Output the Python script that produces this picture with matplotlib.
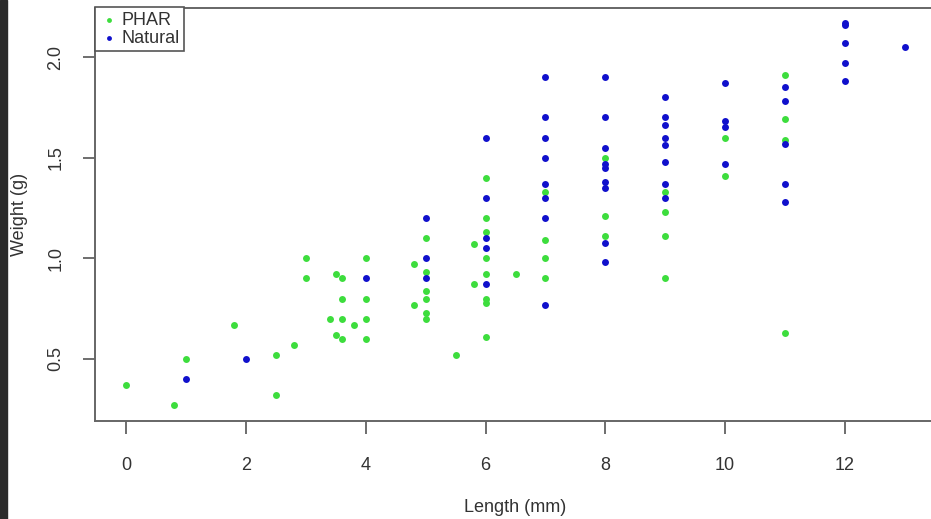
import matplotlib
matplotlib.use("Agg")
import matplotlib.pyplot as plt
from matplotlib.patches import Rectangle

# PHAR (green) fish
phar_len = [0, 0.8, 1, 1.8, 2.5, 2.5, 2.8, 3, 3, 3.4,
            3.5, 3.5, 3.6, 3.6, 3.6, 3.6, 3.8, 4, 4, 4, 4,
            4.8, 4.8, 5, 5, 5, 5, 5, 5, 5.5, 5.8, 5.8,
            6, 6, 6, 6, 6, 6, 6, 6, 6.5,
            7, 7, 7, 7, 8, 8, 8, 9, 9, 9, 9,
            10, 10, 11, 11, 11, 11]
phar_wt = [0.37, 0.27, 0.50, 0.67, 0.52, 0.32, 0.57, 1.00, 0.90, 0.70,
           0.92, 0.62, 0.90, 0.80, 0.70, 0.60, 0.67, 1.00, 0.80, 0.70, 0.60,
           0.97, 0.77, 1.10, 0.93, 0.835, 0.80, 0.73, 0.70, 0.52, 1.07, 0.87,
           1.40, 1.20, 1.13, 1.00, 0.92, 0.80, 0.78, 0.61, 0.92,
           1.33, 1.09, 1.00, 0.90, 1.50, 1.21, 1.11, 1.33, 1.23, 1.11, 0.90,
           1.60, 1.41, 1.91, 1.69, 1.59, 0.63]

# Natural (blue) fish
nat_len = [1, 2, 4, 5, 5, 5,
           6, 6, 6, 6, 6,
           7, 7, 7, 7, 7, 7, 7, 7,
           8, 8, 8, 8, 8, 8, 8, 8, 8,
           9, 9, 9, 9, 9, 9, 9, 9,
           10, 10, 10, 10,
           11, 11, 11, 11, 11,
           12, 12, 12, 12, 12, 13]
nat_wt = [0.40, 0.50, 0.90, 1.20, 1.00, 0.90,
          1.60, 1.30, 1.10, 1.05, 0.87,
          1.90, 1.70, 1.60, 1.50, 1.37, 1.30, 1.20, 0.77,
          1.90, 1.70, 1.55, 1.47, 1.45, 1.38, 1.35, 1.075, 0.98,
          1.80, 1.70, 1.66, 1.60, 1.565, 1.48, 1.37, 1.30,
          1.87, 1.68, 1.65, 1.47,
          1.85, 1.78, 1.57, 1.37, 1.28,
          2.17, 2.16, 2.07, 1.97, 1.88, 2.05]

x_ticks = [0, 2, 4, 6, 8, 10, 12]
y_ticks = [0.5, 1.0, 1.5, 2.0]

plt.rcParams['font.family'] = ['Liberation Sans', 'DejaVu Sans']

fig = plt.figure(figsize=(9.31, 5.19), dpi=100)
fig.patches.append(Rectangle((0, 0), 7 / 931, 1, transform=fig.transFigure,
                             color="#2b2b2b", zorder=0))

ax = fig.add_axes([95 / 931, 1 - 420.5 / 519, 841 / 931, 413 / 519])

green = "#3ddd3d"
blue = "#1010cc"
ax.scatter(phar_len, phar_wt, s=25, color=green, linewidths=0, label="PHAR", zorder=3)
ax.scatter(nat_len, nat_wt, s=25, color=blue, linewidths=0, label="Natural", zorder=4)

ax.set_xlim(-0.52, 13.52)
ax.set_ylim(0.194, 2.246)
ax.set_xticks(x_ticks)
ax.set_yticks(y_ticks)
ax.set_xticklabels([str(t) for t in x_ticks])
ax.set_yticklabels(["%.1f" % t for t in y_ticks], rotation=90, va="center")

for s in ax.spines.values():
    s.set_color("#666666")
    s.set_linewidth(1.4)
ax.tick_params(axis="both", colors="#555555", labelcolor="#333333",
               length=9, width=1.2, labelsize=13)
ax.tick_params(axis="x", pad=17)
ax.tick_params(axis="y", pad=13)

ax.set_xlabel("Length (mm)", fontsize=13, color="#333333", labelpad=18)
ax.set_ylabel("Weight (g)", fontsize=13, color="#333333", labelpad=14)

leg = ax.legend(loc="upper left", borderaxespad=0, fancybox=False,
                edgecolor="#555555", framealpha=1, fontsize=13,
                handletextpad=0.2, handlelength=1.0, labelspacing=0.05,
                borderpad=0.25, markerscale=0.7)
leg.get_frame().set_linewidth(1.2)
for t in leg.get_texts():
    t.set_color("#333333")

fig.savefig("out.png", dpi=100)
